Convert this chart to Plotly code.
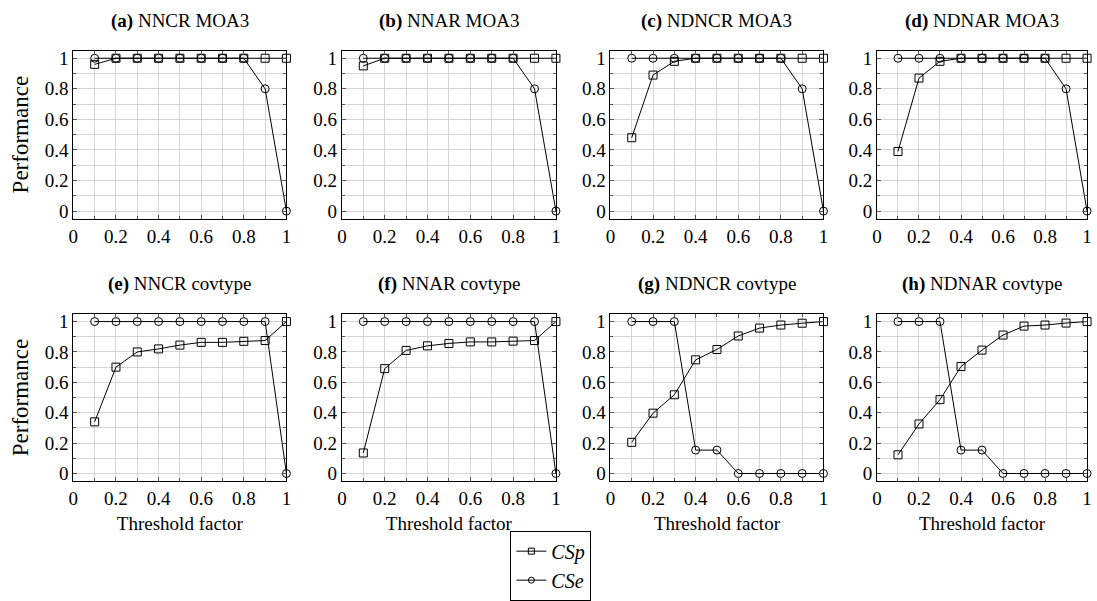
import plotly.graph_objects as go

W, H = 1097, 601

threshold = [0.1, 0.2, 0.3, 0.4, 0.5, 0.6, 0.7, 0.8, 0.9, 1.0]

panel_titles = [
    "<b>(a)</b> NNCR MOA3", "<b>(b)</b> NNAR MOA3",
    "<b>(c)</b> NDNCR MOA3", "<b>(d)</b> NDNAR MOA3",
    "<b>(e)</b> NNCR covtype", "<b>(f)</b> NNAR covtype",
    "<b>(g)</b> NDNCR covtype", "<b>(h)</b> NDNAR covtype",
]

csp_a = [0.96, 1, 1, 1, 1, 1, 1, 1, 1, 1]
cse_a = [1, 1, 1, 1, 1, 1, 1, 1, 0.8, 0]
csp_b = [0.95, 1, 1, 1, 1, 1, 1, 1, 1, 1]
cse_b = [1, 1, 1, 1, 1, 1, 1, 1, 0.8, 0]
csp_c = [0.48, 0.89, 0.98, 1, 1, 1, 1, 1, 1, 1]
cse_c = [1, 1, 1, 1, 1, 1, 1, 1, 0.8, 0]
csp_d = [0.39, 0.87, 0.98, 1, 1, 1, 1, 1, 1, 1]
cse_d = [1, 1, 1, 1, 1, 1, 1, 1, 0.8, 0]
csp_e = [0.34, 0.70, 0.80, 0.82, 0.845, 0.863, 0.863, 0.87, 0.875, 1]
cse_e = [1, 1, 1, 1, 1, 1, 1, 1, 1, 0]
csp_f = [0.135, 0.69, 0.81, 0.84, 0.856, 0.866, 0.866, 0.871, 0.875, 1]
cse_f = [1, 1, 1, 1, 1, 1, 1, 1, 1, 0]
csp_g = [0.205, 0.397, 0.518, 0.748, 0.816, 0.905, 0.957, 0.977, 0.989, 1]
cse_g = [1, 1, 1, 0.154, 0.154, 0, 0, 0, 0, 0]
csp_h = [0.123, 0.326, 0.486, 0.704, 0.812, 0.911, 0.970, 0.977, 0.99, 1]
cse_h = [1, 1, 1, 0.154, 0.154, 0, 0, 0, 0, 0]

csp_all = [csp_a, csp_b, csp_c, csp_d, csp_e, csp_f, csp_g, csp_h]
cse_all = [cse_a, cse_b, cse_c, cse_d, cse_e, cse_f, cse_g, cse_h]

FONT = "Liberation Serif"
# panel boxes in screen pixels
col_px = [(69, 284), (340, 556), (611, 826), (880, 1092)]
row_px = [(49, 222), (320, 492)]


def px_x(p):
    return p / W


def px_y(p):
    return 1 - p / H


fig = go.Figure()
layout = {}
annotations = []
grid_col = "#d4d4d4"
tick_col = "#555555"

for i in range(8):
    r, c = divmod(i, 4)
    idx = i + 1
    xa = "x" if idx == 1 else f"x{idx}"
    ya = "y" if idx == 1 else f"y{idx}"
    line_style = dict(color="black", width=1)
    fig.add_trace(go.Scatter(
        x=threshold, y=cse_all[i], xaxis=xa, yaxis=ya, mode="lines+markers",
        line=line_style, cliponaxis=False, showlegend=False, name="CSe",
        marker=dict(symbol="circle-open", size=8, color="black", line=dict(width=1, color="black")),
    ))
    fig.add_trace(go.Scatter(
        x=threshold, y=csp_all[i], xaxis=xa, yaxis=ya, mode="lines+markers",
        line=line_style, cliponaxis=False, showlegend=False, name="CSp",
        marker=dict(symbol="square-open", size=8, color="black", line=dict(width=1, color="black")),
    ))
    x0, x1 = col_px[c]
    y0, y1 = row_px[r]
    xkey = "xaxis" if idx == 1 else f"xaxis{idx}"
    ykey = "yaxis" if idx == 1 else f"yaxis{idx}"
    layout[xkey] = dict(
        domain=[px_x(x0), min(px_x(x1), 1.0)], anchor=ya, range=[0, 1],
        tick0=0, dtick=0.2, showgrid=True, gridcolor=grid_col, gridwidth=1,
        minor=dict(dtick=0.1, showgrid=True, gridcolor=grid_col, ticks="inside",
                   ticklen=3, tickcolor=tick_col),
        ticks="inside", ticklen=4, tickcolor=tick_col,
        showline=True, linecolor="black", linewidth=1, mirror="ticks",
        zeroline=False, tickfont=dict(family=FONT, size=19, color="black"),
        title=dict(text="Threshold factor" if r == 1 else "",
                   font=dict(family=FONT, size=19, color="black"), standoff=8),
    )
    layout[ykey] = dict(
        domain=[px_y(y1), px_y(y0)], anchor=xa, range=[-0.05, 1.05],
        tick0=0, dtick=0.2, showgrid=True, gridcolor=grid_col, gridwidth=1,
        minor=dict(dtick=0.1, showgrid=True, gridcolor=grid_col, ticks="inside",
                   ticklen=3, tickcolor=tick_col),
        ticks="inside", ticklen=4, tickcolor=tick_col,
        showline=True, linecolor="black", linewidth=1, mirror="ticks",
        zeroline=False, tickfont=dict(family=FONT, size=19, color="black"),
        title=dict(text="Performance" if c == 0 else "",
                   font=dict(family=FONT, size=23, color="black"), standoff=9),
    )
    annotations.append(dict(
        text=panel_titles[i], x=px_x((x0 + x1) / 2), y=px_y(19 if r == 0 else 289),
        xref="paper", yref="paper", xanchor="center", yanchor="middle",
        showarrow=False, font=dict(family=FONT, size=19, color="black"),
    ))

# legend entries
fig.add_trace(go.Scatter(
    x=[None], y=[None], mode="lines+markers", name="<i>CSp</i>",
    line=dict(color="black", width=1),
    marker=dict(symbol="square-open", size=6, color="black", line=dict(width=1, color="black")),
))
fig.add_trace(go.Scatter(
    x=[None], y=[None], mode="lines+markers", name="<i>CSe</i>",
    line=dict(color="black", width=1),
    marker=dict(symbol="circle-open", size=6, color="black", line=dict(width=1, color="black")),
))

fig.update_layout(
    width=W, height=H, margin=dict(l=0, r=0, t=0, b=0),
    paper_bgcolor="white", plot_bgcolor="white",
    font=dict(family=FONT, size=19, color="black"),
    annotations=annotations,
    legend=dict(x=px_x(510), y=px_y(543), xanchor="left", yanchor="top",
                bordercolor="black", borderwidth=1, bgcolor="white",
                font=dict(family=FONT, size=20, color="black"),
                tracegroupgap=0, itemwidth=30),
    **layout,
)

fig.write_html(
    "out.html",
    config={"displayModeBar": False},
    post_script="document.body.style.margin='0px';document.body.style.overflow='hidden';",
)
